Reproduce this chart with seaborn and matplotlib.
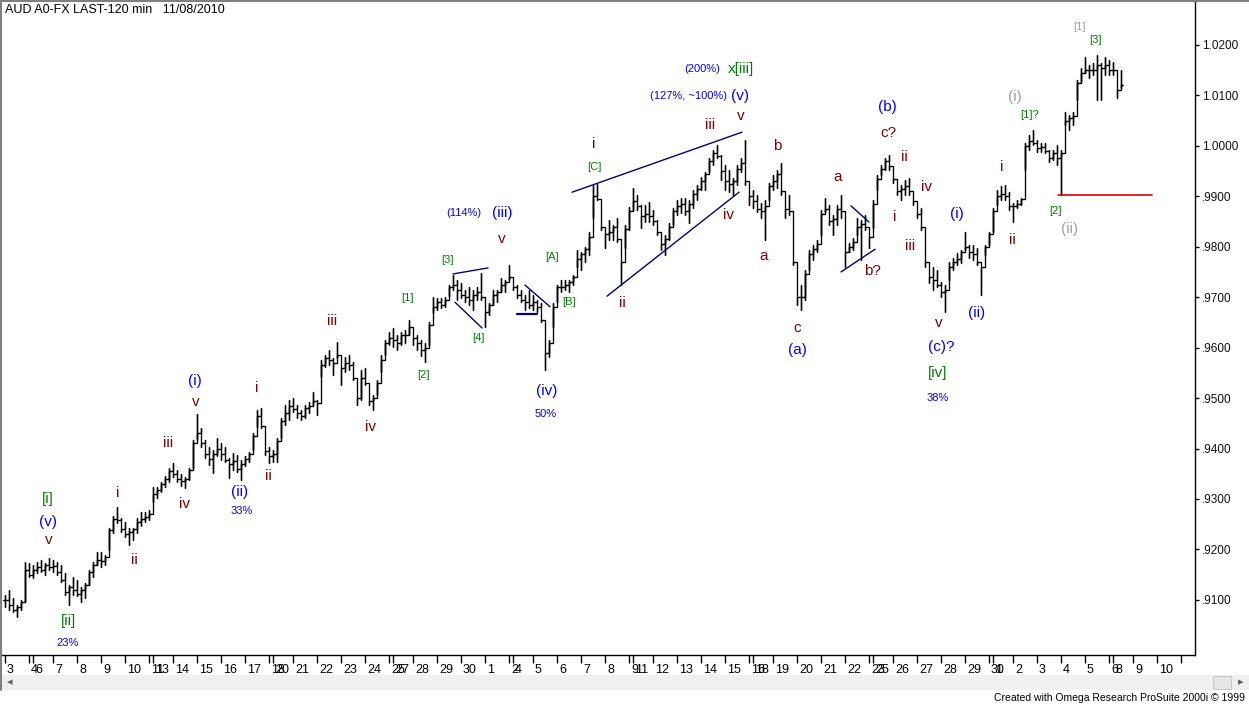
import numpy as np
import pandas as pd
import matplotlib
matplotlib.use("Agg")
import matplotlib.pyplot as plt
import seaborn as sns
from matplotlib.patches import Rectangle
from matplotlib.lines import Line2D
from matplotlib.transforms import ScaledTranslation

# ---------------- data (prices in 1/10000 units, one entry per bar) ----------------
highs_pips = [
    9110, 9120, 9104, 9090, 9100, 9175, 9173, 9169, 9175, 9179,
    9173, 9183, 9179, 9175, 9169, 9153, 9130, 9145, 9139, 9126,
    9134, 9159, 9175, 9195, 9195, 9189, 9243, 9266, 9284, 9262,
    9254, 9243, 9243, 9262, 9274, 9274, 9278, 9324, 9324, 9334,
    9346, 9361, 9371, 9357, 9350, 9344, 9361, 9417, 9468, 9441,
    9417, 9403, 9397, 9421, 9411, 9403, 9381, 9391, 9387, 9377,
    9385, 9393, 9431, 9476, 9480, 9433, 9403, 9397, 9421, 9461,
    9486, 9496, 9500, 9486, 9476, 9486, 9492, 9512, 9496, 9575,
    9585, 9595, 9579, 9611, 9566, 9581, 9585, 9572, 9526, 9556,
    9560, 9516, 9506, 9536, 9585, 9615, 9631, 9639, 9625, 9631,
    9635, 9655, 9635, 9625, 9615, 9609, 9651, 9700, 9698, 9698,
    9700, 9724, 9744, 9734, 9728, 9714, 9720, 9714, 9720, 9748,
    9675, 9688, 9714, 9714, 9738, 9734, 9764, 9740, 9724, 9714,
    9704, 9714, 9704, 9694, 9688, 9615, 9615, 9688, 9724, 9734,
    9734, 9734, 9744, 9794, 9790, 9799, 9829, 9922, 9925, 9867,
    9833, 9853, 9843, 9857, 9784, 9843, 9879, 9916, 9903, 9883,
    9883, 9889, 9873, 9853, 9829, 9823, 9847, 9877, 9893, 9897,
    9897, 9893, 9912, 9922, 9938, 9948, 9976, 9992, 10002, 9982,
    9962, 9952, 9936, 9962, 9976, 10012, 9922, 9912, 9903, 9887,
    9893, 9926, 9942, 9952, 9965, 9893, 9903, 9813, 9754, 9724,
    9754, 9794, 9803, 9813, 9873, 9897, 9883, 9863, 9883, 9903,
    9813, 9807, 9817, 9857, 9853, 9863, 9829, 9893, 9942, 9962,
    9976, 9982, 9956, 9932, 9922, 9932, 9936, 9907, 9887, 9877,
    9794, 9768, 9760, 9754, 9730, 9724, 9770, 9778, 9788, 9794,
    9829, 9803, 9803, 9797, 9768, 9803, 9829, 9877, 9912, 9920,
    9922, 9908, 9887, 9893, 9897, 10006, 10021, 10031, 10012, 10006,
    10006, 9992, 9992, 10002, 9992, 10067, 10061, 10067, 10130, 10154,
    10176, 10160, 10164, 10180, 10164, 10176, 10170, 10166, 10150, 10150,
]
lows_pips = [
    9086, 9080, 9076, 9066, 9080, 9096, 9145, 9143, 9153, 9155,
    9149, 9159, 9155, 9149, 9135, 9110, 9090, 9110, 9108, 9096,
    9104, 9130, 9145, 9169, 9165, 9169, 9199, 9233, 9252, 9235,
    9225, 9209, 9219, 9233, 9246, 9254, 9258, 9294, 9302, 9314,
    9324, 9334, 9344, 9334, 9326, 9322, 9338, 9361, 9417, 9403,
    9381, 9367, 9352, 9385, 9377, 9373, 9342, 9357, 9353, 9338,
    9365, 9373, 9397, 9442, 9440, 9387, 9371, 9373, 9373, 9421,
    9446, 9456, 9472, 9461, 9456, 9461, 9470, 9486, 9466, 9542,
    9562, 9566, 9546, 9579, 9526, 9552, 9556, 9536, 9486, 9496,
    9526, 9486, 9476, 9506, 9552, 9585, 9605, 9601, 9595, 9605,
    9609, 9625, 9605, 9595, 9583, 9572, 9605, 9669, 9675, 9679,
    9681, 9702, 9714, 9694, 9698, 9690, 9684, 9675, 9694, 9694,
    9641, 9665, 9684, 9690, 9710, 9710, 9734, 9714, 9698, 9690,
    9675, 9679, 9675, 9671, 9651, 9556, 9581, 9641, 9690, 9710,
    9714, 9710, 9724, 9760, 9754, 9770, 9784, 9857, 9893, 9833,
    9797, 9813, 9813, 9809, 9724, 9797, 9833, 9873, 9873, 9837,
    9849, 9849, 9843, 9823, 9794, 9784, 9813, 9843, 9863, 9867,
    9863, 9847, 9877, 9893, 9912, 9912, 9948, 9962, 9976, 9932,
    9912, 9908, 9903, 9922, 9948, 9922, 9883, 9877, 9869, 9857,
    9813, 9893, 9912, 9916, 9903, 9857, 9863, 9764, 9684, 9675,
    9694, 9754, 9774, 9789, 9823, 9869, 9843, 9823, 9843, 9857,
    9759, 9789, 9794, 9823, 9774, 9833, 9797, 9837, 9912, 9942,
    9952, 9952, 9926, 9903, 9893, 9903, 9903, 9883, 9857, 9833,
    9760, 9728, 9714, 9720, 9700, 9671, 9734, 9754, 9764, 9768,
    9794, 9778, 9774, 9764, 9704, 9784, 9803, 9829, 9883, 9893,
    9893, 9873, 9849, 9877, 9883, 9952, 9992, 10002, 9988, 9988,
    9986, 9968, 9972, 9962, 9902, 10041, 10031, 10041, 10091, 10126,
    10144, 10134, 10140, 10091, 10091, 10140, 10140, 10140, 10095, 10115,
]
closes_pips = [
    9100, 9090, 9080, 9085, 9095, 9160, 9150, 9160, 9165, 9160,
    9170, 9165, 9168, 9155, 9140, 9115, 9125, 9120, 9112, 9120,
    9130, 9155, 9170, 9180, 9178, 9185, 9238, 9260, 9258, 9240,
    9230, 9235, 9240, 9255, 9260, 9265, 9270, 9310, 9318, 9330,
    9340, 9355, 9350, 9340, 9335, 9340, 9358, 9410, 9430, 9410,
    9390, 9380, 9390, 9400, 9390, 9378, 9370, 9375, 9360, 9370,
    9380, 9390, 9425, 9465, 9445, 9395, 9385, 9390, 9415, 9455,
    9470, 9485, 9478, 9470, 9465, 9480, 9485, 9495, 9490, 9565,
    9580, 9575, 9570, 9585, 9560, 9570, 9565, 9540, 9500, 9540,
    9530, 9495, 9500, 9530, 9575, 9610, 9620, 9615, 9610, 9625,
    9625, 9640, 9620, 9610, 9595, 9600, 9645, 9680, 9690, 9685,
    9695, 9720, 9725, 9715, 9705, 9700, 9695, 9705, 9710, 9700,
    9670, 9685, 9705, 9710, 9725, 9730, 9740, 9720, 9705, 9695,
    9690, 9685, 9690, 9680, 9655, 9590, 9610, 9680, 9720, 9720,
    9725, 9730, 9740, 9775, 9785, 9795, 9820, 9900, 9895, 9840,
    9825, 9830, 9840, 9815, 9770, 9835, 9870, 9890, 9880, 9860,
    9865, 9860, 9850, 9830, 9805, 9815, 9840, 9870, 9880, 9885,
    9870, 9885, 9905, 9915, 9930, 9945, 9970, 9985, 9980, 9950,
    9930, 9925, 9930, 9955, 9965, 9930, 9900, 9890, 9875, 9870,
    9880, 9920, 9930, 9945, 9910, 9875, 9870, 9770, 9700, 9700,
    9745, 9785, 9795, 9805, 9865, 9875, 9850, 9855, 9875, 9870,
    9790, 9800, 9810, 9840, 9845, 9840, 9820, 9885, 9935, 9955,
    9970, 9960, 9935, 9910, 9915, 9920, 9910, 9890, 9865, 9840,
    9770, 9740, 9735, 9725, 9710, 9715, 9760, 9770, 9775, 9790,
    9800, 9790, 9785, 9770, 9760, 9800, 9825, 9870, 9900, 9905,
    9900, 9880, 9880, 9885, 9895, 10000, 10010, 10005, 9995, 9998,
    9990, 9975, 9985, 9975, 9985, 10050, 10055, 10060, 10125, 10145,
    10150, 10150, 10150, 10160, 10155, 10160, 10150, 10150, 10110, 10120,
]
first_open_pips = 9100

price_ticks = [0.91, 0.92, 0.93, 0.94, 0.95, 0.96, 0.97, 0.98, 0.99, 1.00, 1.01, 1.02]
first_day, last_day = "2010-09-03", "2010-11-11"

# wave labels: text, bar index, price, colour key, size key
wave_labels = [
    ("[i]", 10.75, 0.9300, "green", "big"),
    ("(v)", 10.75, 0.9254, "blue", "big"),
    ("v", 11.0, 0.9219, "red", "big"),
    ("[ii]", 15.75, 0.9058, "green", "big"),
    ("23%", 15.75, 0.9015, "blue", "small"),
    ("i", 28.25, 0.9312, "red", "big"),
    ("ii", 32.25, 0.9179, "red", "big"),
    ("iii", 40.75, 0.9411, "red", "big"),
    ("iv", 45.0, 0.9290, "red", "big"),
    ("(i)", 47.5, 0.9534, "blue", "big"),
    ("v", 47.75, 0.9492, "red", "big"),
    ("(ii)", 58.75, 0.9314, "blue", "big"),
    ("33%", 59.25, 0.9276, "blue", "small"),
    ("i", 63.0, 0.9520, "red", "big"),
    ("ii", 65.75, 0.9346, "red", "big"),
    ("iii", 81.75, 0.9653, "red", "big"),
    ("iv", 91.5, 0.9443, "red", "big"),
    ("[1]", 100.75, 0.9698, "green", "small"),
    ("[2]", 104.75, 0.9546, "green", "small"),
    ("[3]", 110.75, 0.9774, "green", "small"),
    ("[4]", 118.25, 0.9619, "green", "small"),
    ("(114%)", 114.75, 0.9867, "blue", "small"),
    ("(iii)", 124.25, 0.9867, "blue", "big"),
    ("v", 124.25, 0.9815, "red", "big"),
    ("[A]", 136.75, 0.9780, "green", "small"),
    ("[B]", 141.0, 0.9690, "green", "small"),
    ("(iv)", 135.5, 0.9514, "blue", "big"),
    ("50%", 135.25, 0.9468, "blue", "small"),
    ("i", 147.25, 1.0004, "red", "big"),
    ("[C]", 147.25, 0.9958, "green", "small"),
    ("ii", 154.25, 0.9688, "red", "big"),
    ("iii", 176.25, 1.0041, "red", "big"),
    ("v", 184.0, 1.0059, "red", "big"),
    ("(127%, ~100%)", 170.75, 1.0099, "blue", "small"),
    ("(v)", 183.75, 1.0099, "blue", "big"),
    ("(200%)", 174.25, 1.0152, "blue", "small"),
    ("x[iii]", 184.0, 1.0152, "green", "big"),
    ("iv", 180.75, 0.9863, "red", "big"),
    ("a", 189.75, 0.9782, "red", "big"),
    ("b", 193.0, 1.0000, "red", "big"),
    ("c", 198.0, 0.9639, "red", "big"),
    ("(a)", 198.0, 0.9595, "blue", "big"),
    ("a", 208.25, 0.9938, "red", "big"),
    ("b?", 216.75, 0.9752, "red", "big"),
    ("(b)", 220.5, 1.0077, "blue", "big"),
    ("c?", 220.75, 1.0025, "red", "big"),
    ("ii", 224.75, 0.9978, "red", "big"),
    ("i", 222.5, 0.9859, "red", "big"),
    ("iv", 230.5, 0.9918, "red", "big"),
    ("iii", 226.25, 0.9801, "red", "big"),
    ("v", 233.5, 0.9649, "red", "big"),
    ("(c)?", 234.0, 0.9601, "blue", "big"),
    ("[iv]", 233.25, 0.9550, "green", "big"),
    ("38%", 233.25, 0.9500, "blue", "small"),
    ("(i)", 238.0, 0.9865, "blue", "big"),
    ("(ii)", 243.0, 0.9669, "blue", "big"),
    ("i", 249.25, 0.9958, "red", "big"),
    ("ii", 251.75, 0.9813, "red", "big"),
    ("(i)", 252.5, 1.0097, "grey", "big"),
    ("[1]?", 256.25, 1.0061, "green", "small"),
    ("[2]", 262.75, 0.9871, "green", "small"),
    ("(ii)", 266.25, 0.9835, "grey", "big"),
    ("[1]", 268.75, 1.0235, "grey", "small"),
    ("[3]", 272.75, 1.0210, "green", "small"),
]

# trend lines: (start bar, start price), (end bar, end price)
trend_lines = [
    ((112.0, 0.9746), (120.75, 0.9758)),
    ((112.5, 0.9690), (119.25, 0.9639)),
    ((130.0, 0.9724), (136.25, 0.9681)),
    ((141.75, 0.9908), (184.25, 1.0027)),
    ((150.5, 0.9702), (183.5, 0.9908)),
    ((211.5, 0.9881), (216.0, 0.9849)),
    ((209.0, 0.9750), (217.5, 0.9795)),
]
base_line = ((128.0, 0.9667), (133.0, 0.9667))
support_line = ((263.25, 0.9903), (286.75, 0.9903))

# ---------------- styling ----------------
sns.set_theme(style="white")
plt.rcParams["font.family"] = ["Liberation Sans", "DejaVu Sans"]

COLORS = {"red": "#800000", "blue": "#0000ff", "green": "#008000", "grey": "#a0a0a0"}
SIZES = {"big": 11, "small": 8}

W, H = 1249, 705
fig = plt.figure(figsize=(W / 100, H / 100), dpi=100)
fig.patch.set_facecolor("white")
ax = fig.add_axes([2 / W, 1 - 655 / H, 1193 / W, 653 / H])
ax.set_facecolor("white")

highs = np.array(highs_pips) / 1e4
lows = np.array(lows_pips) / 1e4
closes = np.array(closes_pips) / 1e4
opens = np.concatenate([[first_open_pips / 1e4], closes[:-1]])

rows = []
for i in range(len(highs)):
    pts = [(i - 0.45, opens[i]), (i, opens[i]), (i, highs[i]),
           (i, lows[i]), (i, closes[i]), (i + 0.45, closes[i])]
    for k, (x, y) in enumerate(pts):
        rows.append((i, k, x, y))
bars = pd.DataFrame(rows, columns=["bar", "step", "x", "price"])

sns.lineplot(data=bars, x="x", y="price", units="bar", estimator=None,
             sort=False, color="black", linewidth=0.95, antialiased=True,
             legend=False, ax=ax)

for (x0, y0), (x1, y1) in trend_lines:
    ax.plot([x0, x1], [y0, y1], color="#000080", linewidth=1.0)
ax.plot([base_line[0][0], base_line[1][0]], [base_line[0][1], base_line[1][1]],
        color="#000080", linewidth=1.6)
ax.plot([support_line[0][0], support_line[1][0]],
        [support_line[0][1], support_line[1][1]], color="#e00000",
        linewidth=1.2, clip_on=False)

for txt, x, y, ck, sk in wave_labels:
    ax.text(x, y, txt, color=COLORS[ck], fontsize=SIZES[sk],
            ha="center", va="center", clip_on=False)

# ---------------- axes ----------------
ax.set_xlim(-0.75, 297.5)
ax.set_ylim(0.89908, 1.02850)
ax.set_xlabel("")
ax.set_ylabel("")

# date ticks from calendar (Mon short session, Sat sliver, no Sunday)
tick_pos, tick_lab = [], []
pos = 0
for d in pd.date_range(first_day, last_day, freq="D"):
    wd = d.weekday()
    if wd == 6:
        continue
    tick_pos.append(pos)
    tick_lab.append(str(d.day))
    pos += {0: 5, 5: 1}.get(wd, 6)
tick_lab[-1] = ""
ax.set_xticks(tick_pos)
ax.set_xticklabels(tick_lab)
ax.tick_params(axis="x", direction="out", length=6, width=1, color="black",
               pad=0.5, labelsize=9, bottom=True, labelcolor="black")
for lab in ax.get_xticklabels():
    lab.set_horizontalalignment("left")
    lab.set_transform(lab.get_transform() + ScaledTranslation(2 / 100, 0, fig.dpi_scale_trans))

ax.yaxis.tick_right()
ax.set_yticks(price_ticks)
ax.set_yticklabels([f"{v:.4f}" if v >= 1 else f"{v:.4f}"[1:] for v in price_ticks])
ax.tick_params(axis="y", direction="out", length=3, width=1, color="black",
               pad=2, labelsize=8.5, right=True, left=False, labelcolor="#101010")

for side in ["top", "left"]:
    ax.spines[side].set_visible(False)
for side in ["right", "bottom"]:
    ax.spines[side].set_visible(True)
    ax.spines[side].set_color("black")
    ax.spines[side].set_linewidth(1.0)
ax.grid(False)

# ---------------- window chrome ----------------
fig.text(5 / W, 1 - 10 / H, "AUD A0-FX LAST-120 min   11/08/2010",
         fontsize=9, ha="left", va="center", color="black")
fig.add_artist(Line2D([0, 1], [1 - 1 / H, 1 - 1 / H], transform=fig.transFigure,
                      color="#808080", linewidth=1.5))
fig.add_artist(Line2D([1 / W, 1 / W], [1 - 690 / H, 1], transform=fig.transFigure,
                      color="#808080", linewidth=1.5))
fig.add_artist(Rectangle((2 / W, 1 - 690 / H), 1 - 2 / W, 15 / H,
                         transform=fig.transFigure, facecolor="#f0f0f0",
                         edgecolor="none"))
fig.add_artist(Rectangle((1213 / W, 1 - 689 / H), 18 / W, 13 / H,
                         transform=fig.transFigure, facecolor="#e6e6e6",
                         edgecolor="#c8c8c8", linewidth=0.8))
fig.text(10 / W, 1 - 682 / H, "\u25c2", fontsize=8, color="#606060",
         ha="center", va="center", family="DejaVu Sans")
fig.text(1241 / W, 1 - 682 / H, "\u25b8", fontsize=8, color="#606060",
         ha="center", va="center", family="DejaVu Sans")
fig.text(1245 / W, 1 - 698 / H, "Created with Omega Research ProSuite 2000i \u00a9 1999",
         fontsize=7.5, ha="right", va="center", color="black")

fig.savefig("out.png", dpi=100, facecolor="white")
